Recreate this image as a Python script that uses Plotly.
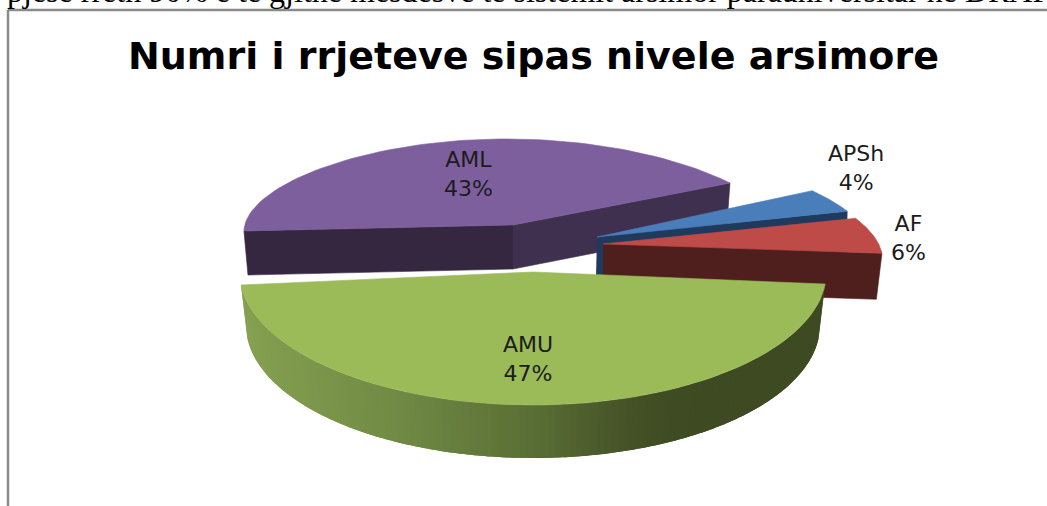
import numpy as np
import plotly.graph_objects as go

# ---- data ----
categories = ["APSh", "AF", "AMU", "AML"]
shares = [4, 6, 47, 43]

# ---- texts ----
title_text = "Numri i rrjeteve sipas nivele arsimore"
page_text = "pjesë rreth 90% e të gjithë mesdesve të sistemit arsimor parauniversitar në DRAP"

# ---- styling / projection of the tilted, exploded pie (pixel space) ----
W, H = 1047, 506
START_DEG = 329.2
top_col = {"APSh": "#4a7ebb", "AF": "#be4b48", "AMU": "#9bbb59", "AML": "#7d5f9e"}
geom = {  # apex x, apex y, rx, ry, x-shear, y-shear, perspective
    "APSh": (597, 237, 272, 91.4, 38, 0, 0),
    "AF": (603, 244, 276, 95, 45, 0.7, 0),
    "AMU": (533, 272, 293.4, 133, 0, 0, 0),
    "AML": (513, 225, 267.5, 86, 0, 2.4, 0.1086),
}
label_pos = {"APSh": (856, 168), "AF": (908, 238), "AMU": (528, 359), "AML": (468, 174)}
grad_x = [245, 400, 530, 640, 700, 830]
grad_rgb = [(133, 160, 80), (112, 137, 68), (90, 111, 53), (67, 79, 37), (61, 74, 34), (61, 74, 34)]

# wedge angles from the values
spans = {}
a = START_DEG
for c, v in zip(categories, shares):
    spans[c] = (a, a + v / sum(shares) * 360)
    a += v / sum(shares) * 360


def arc(c, t0=None, t1=None, n=80):
    ax, ay, rx, ry, sx, sy, k = geom[c]
    s0, s1 = spans[c]
    t = np.radians(np.linspace(s0 if t0 is None else t0, s1 if t1 is None else t1, n))
    return (ax + rx * np.cos(t) * (1 + k * np.sin(t)) + sx * np.sin(t),
            ay + ry * np.sin(t) + sy * np.cos(t))


def poly(fig, xs, ys, col, outline=True):
    fig.add_trace(go.Scatter(
        x=list(xs), y=list(ys), mode="lines" if outline else "none", fill="toself", fillcolor=col,
        line=dict(color=col, width=0.6), hoverinfo="skip", showlegend=False))


def top(c):
    ax, ay = geom[c][:2]
    x, y = arc(c)
    poly(fig, [ax, *x, ax], [ay, *y, ay], top_col[c])


fig = go.Figure()

# AML
x, y = arc("AML")
ax, ay = geom["AML"][:2]
poly(fig, [ax, x[0], ax + (x[0] - ax) * 0.985, ax], [ay, y[0], y[0] + 44, ay + 44], "#35273f")
poly(fig, [ax, x[-1], ax + (x[-1] - ax) * 0.985, ax], [ay, y[-1], y[-1] + 44, ay + 44], "#3f3050")
top("AML")

# APSh
x, y = arc("APSh")
ax, ay = geom["APSh"][:2]
poly(fig, [ax, x[-1], x[-1] - 1, ax - 1], [ay, y[-1], y[-1] + 40, ay + 40], "#1f3a5c")
top("APSh")

# AF
x, y = arc("AF")
ax, ay = geom["AF"][:2]
poly(fig, [ax, x[-1], ax + (x[-1] - ax) * 0.98, ax], [ay, y[-1], y[-1] + 46, ay + 46], "#4f1f1e")
top("AF")

# AMU: curved outer wall with its shading, then the top face
s0, s1 = spans["AMU"]
edges = np.linspace(s0, s1, 121)
gx, gy = geom["AMU"][:2]
for i in range(len(edges) - 1):
    # each strip runs on under the next one so that no seams show
    x, y = arc("AMU", edges[i], edges[min(i + 2, len(edges) - 1)], 5)
    xm, _ = arc("AMU", edges[i], edges[i + 1], 3)
    bx = gx + (x - gx) * 287 / 293.4
    by = y + 53
    rgb = [int(round(np.interp(float(xm[1]), grad_x, [p[j] for p in grad_rgb]))) for j in range(3)]
    poly(fig, [*x, *bx[::-1]], [*y, *by[::-1]], f"rgb({rgb[0]},{rgb[1]},{rgb[2]})", outline=False)
top("AMU")

annotations = [
    dict(x=label_pos[c][0], y=label_pos[c][1], text=f"{c}<br>{v}%", showarrow=False,
         font=dict(family="DejaVu Sans", size=22, color="#1c1c1c"), align="center")
    for c, v in zip(categories, shares)
]
annotations.append(dict(x=533, y=56, text=title_text, showarrow=False,
                        font=dict(family="DejaVu Sans", size=38, color="#000000", weight="bold")))
annotations.append(dict(xref="paper", yref="paper", x=0.0048, y=1, xanchor="left", yanchor="bottom",
                        yshift=-11, text=page_text, showarrow=False,
                        font=dict(family="Liberation Serif", size=32, color="#000000")))

fig.update_layout(
    width=W, height=H, margin=dict(l=0, r=0, t=0, b=0),
    paper_bgcolor="#ffffff", plot_bgcolor="#ffffff", showlegend=False,
    xaxis=dict(range=[0, W], visible=False, fixedrange=True),
    yaxis=dict(range=[H, 0], visible=False, fixedrange=True),
    annotations=annotations,
    shapes=[
        dict(type="line", x0=8, x1=W, y0=10, y1=10, line=dict(color="#8a8a8a", width=2.5)),
        dict(type="line", x0=8, x1=8, y0=10, y1=H, line=dict(color="#8a8a8a", width=2.5)),
    ],
)
fig.write_html("out.html", config={"displayModeBar": False},
               post_script="document.body.style.margin='0';document.body.style.overflow='hidden';")
